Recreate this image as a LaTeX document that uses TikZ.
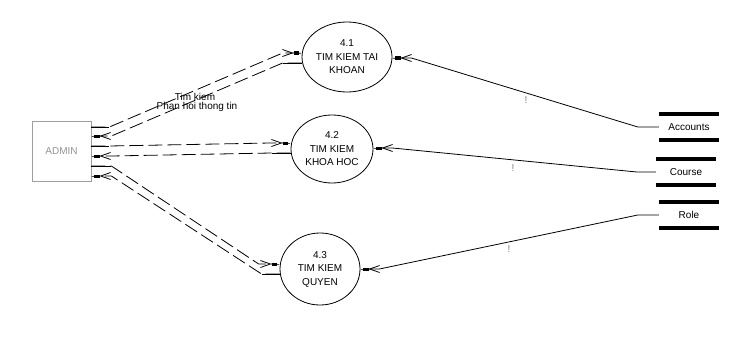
\documentclass[tikz,border=0pt]{standalone}
\usepackage{fontspec}
\setmainfont{Liberation Sans}
\usetikzlibrary{arrows.meta,shapes,positioning,calc}

\begin{document}
\begin{tikzpicture}[x=1pt,y=-1pt]
\tikzset{
  basic/.style    = {font=\fontsize{10}{13.5}\selectfont, align=center, inner sep=0pt},
  entity/.style   = {basic, draw=gray!75, line width=0.8pt, text=gray!85,
                     minimum width=59pt, minimum height=60pt},
  process/.style  = {basic, draw, ellipse, line width=0.8pt},
  store/.style    = {basic, minimum width=60pt, minimum height=26pt},
  bar/.style      = {line width=4pt},
  excl/.style     = {basic, text=gray},
  flow/.style     = {line width=0.8pt},
  flowdash/.style = {flow, dash pattern=on 14pt off 5pt},
  flowtip/.style  = {-{Straight Barb[length=10pt,width=7pt,sep=0pt]
                       Rectangle[length=5pt,width=3pt,sep=0pt]
                       Rectangle[length=3pt,width=0.8pt,sep=0pt]}}
}
\useasboundingbox (0,0) rectangle (737,337);

\node[entity] (admin) at (61.5,151) {ADMIN};

\node[process, minimum width=90pt, minimum height=70pt] (p1) at (347,57) {4.1\\TIM KIEM TAI\\KHOAN};
\node[process, minimum width=82pt, minimum height=68pt] (p2) at (332,149) {4.2\\TIM KIEM\\KHOA HOC};
\node[process, minimum width=80pt, minimum height=72pt] (p3) at (320,269) {4.3\\TIM KIEM\\QUYEN};

% data stores, a bar above and below the name
\node[store] (s1) at (689,127) {Accounts};
\node[store] (s2) at (686,172) {Course};
\node[store] (s3) at (689,215) {Role};
\foreach \s in {s1,s2,s3}{
  \draw[bar] (\s.north west) -- (\s.north east);
  \draw[bar] (\s.south west) -- (\s.south east);
}

% ADMIN <-> 4.1
\draw[flowdash, flowtip] (admin.east |- 0,127) -- ++(18,0) -- ($(p1.west |- 0,53)+(-19,0)$) -- (p1.west |- 0,53);
\draw[flowdash, flowtip] (p1.west |- 0,63) -- ++(-19,0) -- ($(admin.east |- 0,136)+(20,0)$) -- (admin.east |- 0,136);
% ADMIN <-> 4.2
\draw[flowdash, flowtip] (admin.east |- 0,146) -- ++(18,0) -- ($(p2.west |- 0,143)+(-20,0)$) -- (p2.west |- 0,143);
\draw[flowdash, flowtip] (p2.west |- 0,153) -- ++(-19,0) -- ($(admin.east |- 0,156)+(20,0)$) -- (admin.east |- 0,156);
% ADMIN <-> 4.3
\draw[flowdash, flowtip] (admin.east |- 0,166) -- ++(20,0) -- ($(p3.west |- 0,264)+(-21,0)$) -- (p3.west |- 0,264);
\draw[flowdash, flowtip] (p3.west |- 0,274) -- ++(-18,0) -- ($(admin.east |- 0,176)+(20,0)$) -- (admin.east |- 0,176);

% solid stubs where the flows leave a node
\foreach \y/\l in {127/18,146/18,166/20}
  \draw[flow] (admin.east |- 0,\y) -- ++(\l,0);
\draw[flow] (p1.west |- 0,63) -- ++(-19,0);
\draw[flow] (p2.west |- 0,153) -- ++(-19,0);
\draw[flow] (p3.west |- 0,274) -- ++(-18,0);

\node[basic] (l1) at (195,97) {Tim kiem};
\node[basic] (l2) at (197,107) {Phan hoi thong tin};

% stores -> processes
\draw[flow, flowtip] (s1.west) -- ++(-21,0) -- ($(p1.east |- 0,58)+(19,0)$) -- (p1.east |- 0,58);
\draw[flow, flowtip] (s2.west) -- ++(-19,0) -- ($(p2.east |- 0,148)+(19,0)$) -- (p2.east |- 0,148);
\draw[flow, flowtip] (s3.west) -- ++(-21,0) -- ($(p3.east |- 0,269)+(19,0)$) -- (p3.east |- 0,269);

\node[excl] (e1) at (526,100) {!};
\node[excl] (e2) at (513,168) {!};
\node[excl] (e3) at (509,249) {!};
\end{tikzpicture}
\end{document}
